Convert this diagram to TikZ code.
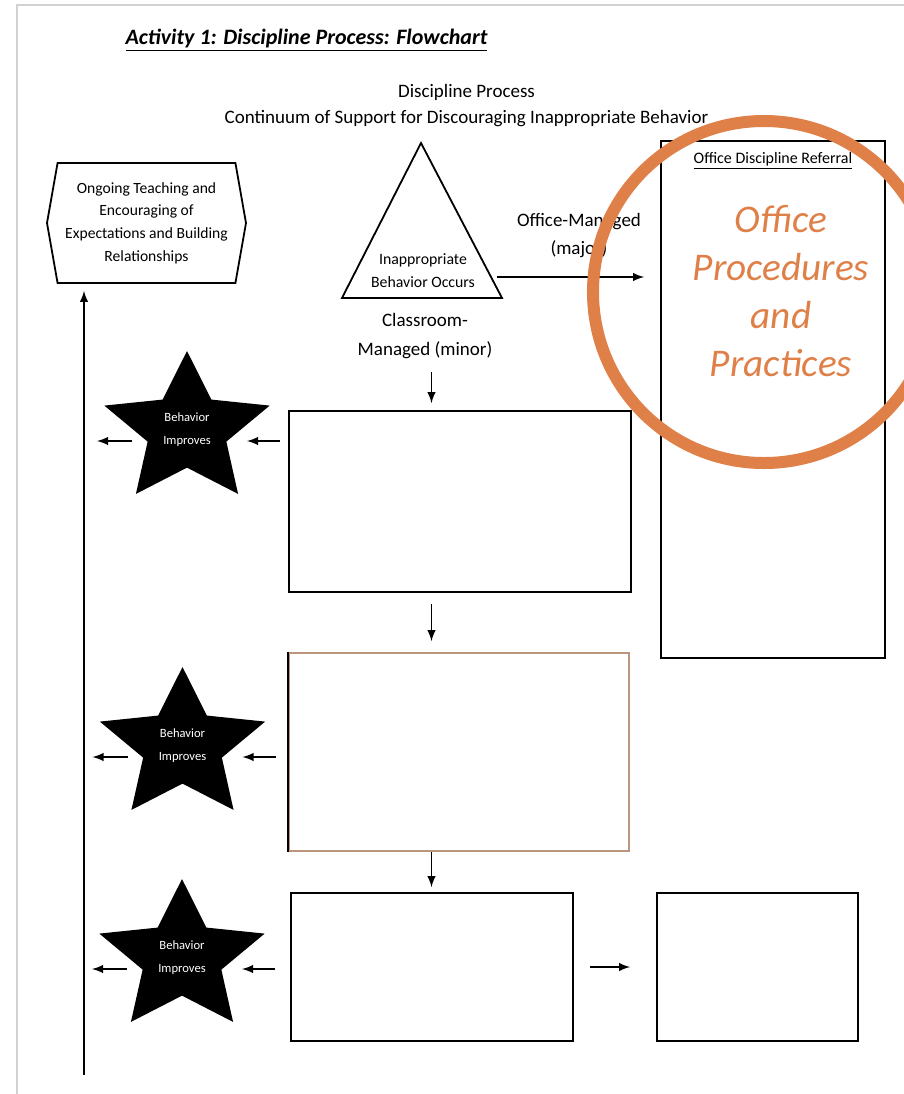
\documentclass[tikz,border=0pt]{standalone}
\usepackage{fontspec}
\setmainfont{Carlito}
\usepackage{xcolor}
\usepackage{tikz}
\usetikzlibrary{shapes,arrows,positioning,calc}
\usetikzlibrary{shapes.geometric}
\usetikzlibrary{shapes.symbols}
\definecolor{ringorange}{RGB}{222,128,72}
\definecolor{boxtan}{RGB}{185,150,125}

\begin{document}
\begin{tikzpicture}[x=0.5pt,y=-0.5pt,
		arr/.style={-latex,line width=0.9pt},
		emptybox/.style={draw,line width=0.9pt,inner sep=0pt},
		behave/.style={star,star points=5,star point ratio=2.1,fill=black,minimum size=79pt,inner sep=0pt,xscale=1.1},
		behavetext/.style={text=white,align=center,font=\fontsize{6.3}{11.5}\selectfont}]
		\useasboundingbox (0,0) rectangle (904,1094);
		\clip (0,0) rectangle (904,1094);
		% page edge
		\draw[black!18,line width=1pt] (17,1094) -- (17,5) -- (904,5);
		% headings
		\node[font=\bfseries\itshape\fontsize{11}{13}\selectfont] (title) at (306.5,40) {\underline{Activity 1: Discipline Process: Flowchart}};
		\node[font=\fontsize{9.5}{11}\selectfont] (head1) at (466.5,92) {Discipline Process};
		\node[font=\fontsize{9.5}{11}\selectfont] (head2) at (466.5,119) {Continuum of Support for Discouraging Inappropriate Behavior};
		% ongoing teaching
		\node[signal,signal to=west and east,signal pointer angle=160,draw,line width=0.9pt,minimum width=99.5pt,minimum height=60pt,inner sep=0pt,align=center,font=\fontsize{7.8}{11.3}\selectfont] (hex) at (146.5,223) {Ongoing Teaching and\\Encouraging of\\Expectations and Building\\Relationships};
		% behavior occurs
		\draw[line width=0.9pt] (421,143) coordinate (apex) -- (502,298) coordinate (tri right) -- (342,298) coordinate (tri left) -- cycle;
		\node[font=\fontsize{7.9}{11.5}\selectfont,align=center] (occurs) at (423,270.5) {Inappropriate\\Behavior Occurs};
		\node[font=\fontsize{9.5}{14.5}\selectfont,align=center] (managed) at (425,336.5) {Classroom-\\Managed (minor)};
		\node[font=\fontsize{9.5}{14}\selectfont,align=center] (major) at (579,236) {Office-Managed\\(major)};
		% office referral
		\node[emptybox,minimum width=112pt,minimum height=258.5pt] (office) at (773,399.5) {};
		\node[font=\fontsize{8}{9}\selectfont,below=2.5pt of office.north] (odr) {\underline{Office Discipline Referral}};
		\node[text=ringorange,align=center,font=\itshape\fontsize{19.6}{24}\selectfont] (proc) at (781,291.5) {Office\\Procedures\\and\\Practices};
		\coordinate (tri arrow) at (497,277);
		\draw[arr,shorten >=8pt] (tri arrow) -- (tri arrow -| office.west);
		% classroom steps
		\node[emptybox,minimum width=171pt,minimum height=90.5pt] (box1) at (460,501.5) {};
		\node[emptybox,draw=boxtan,minimum width=170pt,minimum height=99pt] (box2) at (459,752) {};
		\draw[line width=0.9pt] (box2.north west) -- (box2.south west);
		\node[emptybox,minimum width=141pt,minimum height=74pt] (box3) at (432,967) {};
		\node[emptybox,minimum width=100.5pt,minimum height=74pt] (box4) at (757.5,967) {};
		\coordinate (spine) at (431.5,0);
		\draw[arr,shorten <=3pt,shorten >=3.5pt] (managed.south -| spine) -- (box1.north -| spine);
		\draw[arr,shorten <=5.5pt,shorten >=5.5pt] (box1.south -| spine) -- (box2.north -| spine);
		\draw[arr,shorten >=2.5pt] (box2.south -| spine) -- (box3.north -| spine);
		\draw[arr,shorten <=8pt,shorten >=13pt] (box3.east) -- (box4.west);
		% behavior improves
		\foreach \n/\xx/\yy in {1/187/430,2/182.5/746,3/182/958}
		{
			\node[behave] (s\n) at (\xx,\yy) {};
			\node[behavetext] (t\n) at (s\n) {Behavior\\Improves};
			\draw[arr] ($(s\n)+(93,11)$) -- ($(s\n)+(60,11)$);
			\draw[arr] ($(s\n)+(-55,11)$) -- ($(s\n)+(-90,11)$);
		}
		\coordinate (loop start) at (84,1075);
		\draw[arr,shorten >=3.5pt] (loop start) -- (loop start |- hex.south);
		% highlight
		\draw[ringorange,line width=6pt] (764,292) circle (171);
	\end{tikzpicture}
\end{document}
